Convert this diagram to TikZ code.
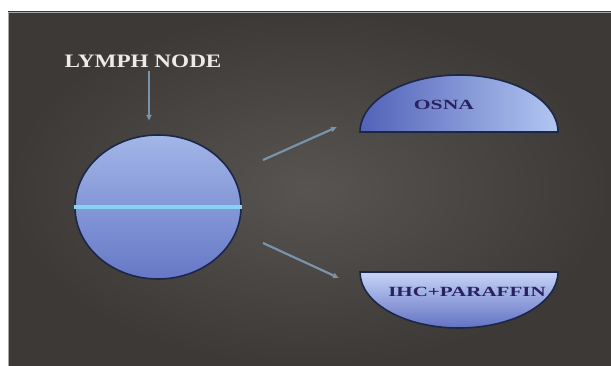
\documentclass[tikz,border=0pt]{standalone}
\usepackage{fontspec}
\setmainfont{Liberation Serif}
\usetikzlibrary{shapes.geometric,arrows.meta}
\definecolor{bgdark}{HTML}{3C3936}
\definecolor{bgmid}{HTML}{46433F}
\definecolor{bglight}{HTML}{575451}
\definecolor{edgeblue}{HTML}{1C2748}
\definecolor{arrowblue}{HTML}{7893AB}
\definecolor{midline}{HTML}{86D2F2}
\definecolor{txtnavy}{HTML}{2A2260}
\definecolor{circtop}{HTML}{A2B6E8}
\definecolor{circbot}{HTML}{6678C6}
\definecolor{domeleft}{HTML}{5262B8}
\definecolor{domeright}{HTML}{B2C6F2}
\definecolor{bowltop}{HTML}{C6D4F8}
\definecolor{bowlbot}{HTML}{6272C2}
\tikzset{
  conn/.style={draw=arrowblue, line width=2.2pt, -{Latex[length=6pt,width=6pt]}},
  shapeedge/.style={draw=edgeblue, line width=1.6pt},
  lbl/.style={text=txtnavy, font=\bfseries\fontsize{14}{14}\selectfont, inner sep=0pt},
}
\begin{document}
\begin{tikzpicture}[x=1pt,y=-1pt]
\useasboundingbox (0,0) rectangle (611,366);
\fill[white] (0,0) rectangle (611,366);
% background panel
\fill[bgmid] (8,12) rectangle (611,366);
\shade[inner color=bglight, outer color=bgdark] (8,12) rectangle (611,366);
\draw[gray!70, line width=0.6pt] (8,366) -- (8,12) -- (611,12);

% title
\node[text=white!92!black, font=\bfseries\fontsize{19}{19}\selectfont, inner sep=0pt] (title) at (143,61) {\scalebox{1.22}[1]{LYMPH NODE}};
\coordinate (tstart) at (149,71);
\coordinate (tend) at (149,121);
\draw[conn] (tstart) -- (tend);

% lymph node ellipse
\node[ellipse, shapeedge, minimum width=166pt, minimum height=144pt, inner sep=0pt,
      top color=circtop, bottom color=circbot] (ln) at (158,207) {};
\draw[midline, line width=4pt] (ln.west) -- (ln.east);

% OSNA dome
\shade[left color=domeleft, right color=domeright, shapeedge]
  (360,132) arc[start angle=180, end angle=360, x radius=99, y radius=57] -- cycle;
\node[lbl] (osna) at (444,105) {\scalebox{1.55}[1]{OSNA}};

% IHC bowl
\shade[top color=bowltop, bottom color=bowlbot, shapeedge]
  (360,272) arc[start angle=180, end angle=0, x radius=99, y radius=56] -- cycle;
\node[lbl] (ihc) at (467,292) {\scalebox{1.5}[1]{IHC+PARAFFIN}};

% connectors
\coordinate (u1) at (263,160);
\coordinate (u2) at (337,127);
\coordinate (d1) at (263,243);
\coordinate (d2) at (339,278);
\draw[conn] (u1) -- (u2);
\draw[conn] (d1) -- (d2);
\end{tikzpicture}
\end{document}
